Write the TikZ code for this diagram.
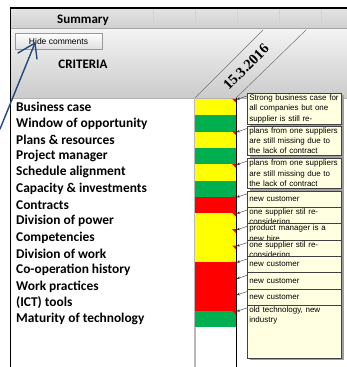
\documentclass[tikz,border=0pt]{standalone}
\usepackage{fontspec}
\setmainfont{Carlito}
\newfontfamily\cmtfont{Liberation Sans}
\newfontfamily\datefont{Liberation Serif}
\usetikzlibrary{arrows.meta,calc}
\definecolor{cy}{HTML}{FFFF00}
\definecolor{cg}{HTML}{00B050}
\definecolor{cr}{HTML}{FF0000}
\definecolor{cmtbg}{HTML}{FFFFE1}
\definecolor{hdrtop}{HTML}{F4F4F4}
\definecolor{hdrbot}{HTML}{CBCBCB}
\definecolor{sumtop}{HTML}{E4E4E4}
\definecolor{sumbot}{HTML}{D0D0D0}
\definecolor{penblue}{HTML}{24487E}
\tikzset{
  lab/.style={anchor=west,inner sep=0pt,font=\bfseries\fontsize{13.4}{15}\selectfont},
  cellbox/.style={minimum width=41pt,minimum height=16.3pt,inner sep=0pt,draw=none},
  cmt/.style={draw=black!75,line width=.5pt,fill=cmtbg,anchor=north west,
    text width=90pt,inner xsep=2pt,inner ysep=1.5pt,align=left,minimum height=16.3pt,
    font=\cmtfont\fontsize{8}{10.3}\selectfont},
  cmtarrow/.style={draw=black!80,line width=.4pt,-{Stealth[length=3pt,width=2.6pt]}},
  flag/.style={fill=cr},
  btn/.style={draw=gray!80,top color=white,bottom color=gray!25,minimum width=87pt,
    minimum height=16pt,inner sep=0pt,font=\cmtfont\fontsize{8.5}{10}\selectfont},
  hdrtext/.style={font=\bfseries\fontsize{13}{15}\selectfont,inner sep=0pt},
}
\begin{document}
\begin{tikzpicture}[x=1pt,y=-1pt]
\useasboundingbox (0,0) rectangle (347,367);
\fill[white] (0,0) rectangle (347,367);
% header
\fill[top color=sumtop,bottom color=sumbot] (11,8) rectangle (347,28);
\fill[top color=hdrtop,bottom color=hdrbot] (11,28) rectangle (347,98);
\foreach \gx in {153,195,237,279,321} \draw[gray!35,line width=.4pt] (\gx,8) -- (\gx,28);
\draw[gray!70,line width=.6pt] (11,28) -- (347,28);
\draw[gray!60,line width=.8pt] (11,98) -- (347,98);
\node[hdrtext] (summary) at (83,20) {Summary};
\node[hdrtext] (criteria) at (83,64) {CRITERIA};
\node[btn] (btn) at (58.5,41) {Hide comments};
% diagonal date header
\draw[black!55,line width=.5pt] (195,98) -- (263,30);
\draw[black!55,line width=.5pt] (236,98) -- (306,30);
\node[rotate=45,inner sep=0pt,font=\datefont\bfseries\fontsize{14.5}{16}\selectfont] (date) at (246,67) {15.3.2016};
% column lines
\draw[gray!55,line width=1.3pt] (195,98) -- (195,367);
\draw[black,line width=.5pt] (236,98) -- (236,367);
% rows
\foreach \i/\col/\txt in {0/cy/Business case,1/cg/Window of opportunity,2/cy/Plans \& resources,
  3/cg/Project manager,4/cy/Schedule alignment,5/cg/Capacity \& investments,6/cr/Contracts,
  7/cy/Division of power,8/cy/Competencies,9/cy/Division of work,10/cr/Co-operation history,
  11/cr/Work practices,12/cr/{(ICT) tools},13/cg/Maturity of technology}{
  \node[cellbox,fill=\col] (c\i) at (215.5,{99+16.3*\i+8.15}) {};
  \node[lab] (l\i) at (16,{99+16.3*\i+8.15}) {\txt};
}
% comment indicators
\foreach \i in {0,2,4,6,7,8,9,10,11,12,13}
  \fill[flag] (c\i.north east) -- ++(-4,0) -- ++(4,4) -- cycle;
% frame
\draw[black,line width=1.6pt] (10.5,367) -- (10.5,8) -- (347,8);
% comments
\fill[gray!75] (249.5,95) rectangle (343.5,359.5);
\node[cmt] (k0) at (247,93) {Strong business case for\\all companies but one\\supplier is still re-};
\node[cmt] (k2) at (247,125.6) {plans from one suppliers\\are still missing due to\\the lack of contract};
\node[cmt] (k4) at (247,158.2) {plans from one suppliers\\are still missing due to\\the lack of contract};
\node[cmt] (k6) at (247,190.8) {new customer};
\node[cmt] (k7) at (247,207.1) {one supplier stil re-\\considering};
\node[cmt] (k8) at (247,223.4) {product manager is a\\new hire};
\node[cmt] (k9) at (247,239.7) {one supplier stil re-\\considering};
\node[cmt] (k10) at (247,256) {new customer};
\node[cmt] (k11) at (247,272.3) {new customer};
\node[cmt] (k12) at (247,288.6) {new customer};
\node[cmt,minimum height=0pt,text height=5.8pt,text depth=44pt] (k13) at (247,304.9) {old technology, new\\industry};
\foreach \i in {0,2,4,6,7,8,9,10,11,12,13}
  \draw[cmtarrow] ($(k\i.north west)+(0,3)$) -- ($(c\i.north east)+(0.6,0.6)$);
% hand-drawn blue arrow
\coordinate (tail) at (0,129);
\coordinate (tip) at (35,43);
\draw[penblue,line width=1.4pt,line cap=round] (tail) -- (tip);
\draw[penblue,line width=1.4pt,line cap=round] (tip) -- (18,53);
\draw[penblue,line width=1.4pt,line cap=round] (tip) -- (37,59);
\end{tikzpicture}
\end{document}
